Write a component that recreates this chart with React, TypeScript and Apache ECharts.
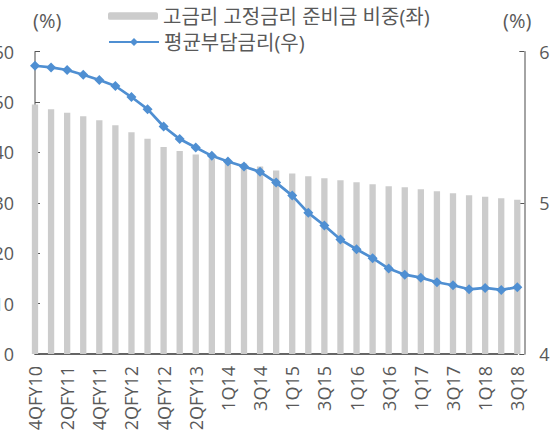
import React, { useEffect, useRef } from "react";
import * as echarts from "echarts";

const categories = [
  "4QFY10", "1QFY11", "2QFY11", "3QFY11", "4QFY11", "1QFY12", "2QFY12", "3QFY12",
  "4QFY12", "1QFY13", "2QFY13", "3QFY13", "1Q14", "2Q14", "3Q14", "4Q14",
  "1Q15", "2Q15", "3Q15", "4Q15", "1Q16", "2Q16", "3Q16", "4Q16",
  "1Q17", "2Q17", "3Q17", "4Q17", "1Q18", "2Q18", "3Q18",
];

const fixedRateReserveShare = [
  49.5, 48.6, 47.9, 47.2, 46.4, 45.4, 44.0, 42.7, 41.1, 40.3, 39.6, 38.8, 38.3, 37.8, 37.2, 36.4,
  35.85, 35.3, 34.9, 34.5, 34.1, 33.7, 33.3, 33.1, 32.7, 32.3, 31.9, 31.5, 31.2, 30.9, 30.6,
];

const avgBurdenRate = [
  5.907, 5.896, 5.879, 5.848, 5.813, 5.773, 5.7, 5.62, 5.505, 5.422, 5.366, 5.311, 5.274, 5.24, 5.205, 5.134,
  5.048, 4.934, 4.85, 4.757, 4.693, 4.634, 4.565, 4.525, 4.505, 4.475, 4.455, 4.428, 4.437, 4.424, 4.442,
];

const barName = "고금리 고정금리 준비금 비중(좌)";
const lineName = "평균부담금리(우)";
const unitLabel = "(%)";

const FONT = "'Open Sans', 'Noto Sans CJK KR', sans-serif";
const TEXT = "#595959";

export default function App() {
  const ref = useRef<HTMLDivElement>(null);
  useEffect(() => {
    if (!ref.current) return;
    const chart = echarts.init(ref.current, null, { renderer: "svg" });
    chart.setOption({
      animation: false,
      textStyle: { fontFamily: FONT },
      grid: { left: 35, right: 38.7, top: 51.7, bottom: 78, outerBoundsMode: "none", containLabel: false },
      legend: [
        {
          data: [barName],
          left: 108,
          top: 5,
          padding: 0,
          itemWidth: 50,
          itemHeight: 7.5,
          textStyle: { fontSize: 20, color: TEXT, fontFamily: FONT, lineHeight: 22 },
        },
        {
          data: [lineName],
          left: 108,
          top: 31,
          padding: 0,
          itemWidth: 50,
          itemHeight: 10,
          textStyle: { fontSize: 20, color: TEXT, fontFamily: FONT, lineHeight: 22 },
        },
      ],
      graphic: [
        {
          type: "text",
          left: 33,
          top: 10,
          style: { text: unitLabel, fontSize: 20, fill: TEXT, fontFamily: FONT },
        },
        {
          type: "text",
          left: 503,
          top: 10,
          style: { text: unitLabel, fontSize: 20, fill: TEXT, fontFamily: FONT },
        },
      ],
      xAxis: {
        type: "category",
        data: categories,
        boundaryGap: false,
        axisLine: { lineStyle: { color: "#333333", width: 1.5 } },
        axisTick: { inside: true, length: 5, interval: 1, lineStyle: { color: "#333333" } },
        axisLabel: {
          interval: 1,
          rotate: 90,
          margin: 12,
          fontSize: 18,
          color: TEXT,
          fontFamily: FONT,
        },
        splitLine: { show: false },
      },
      yAxis: [
        {
          type: "value",
          min: 0,
          max: 60,
          interval: 10,
          position: "left",
          axisLine: { show: true, lineStyle: { color: "#868686", width: 1.5 } },
          axisTick: { show: true, inside: true, length: 5, lineStyle: { color: "#555555" } },
          axisLabel: { margin: 21, fontSize: 18, color: TEXT, fontFamily: FONT },
          splitLine: { show: false },
        },
        {
          type: "value",
          min: 4,
          max: 6,
          interval: 1,
          position: "right",
          offset: 7,
          axisLine: { show: true, lineStyle: { color: "#868686", width: 1.5 } },
          axisTick: { show: true, inside: true, length: 5, lineStyle: { color: "#555555" } },
          axisLabel: { margin: 15, fontSize: 18, color: TEXT, fontFamily: FONT },
          splitLine: { show: false },
        },
      ],
      series: [
        {
          name: barName,
          type: "bar",
          data: fixedRateReserveShare,
          yAxisIndex: 0,
          barWidth: 6.3,
          clip: true,
          itemStyle: { color: "#cccccc" },
        },
        {
          name: lineName,
          type: "line",
          data: avgBurdenRate,
          yAxisIndex: 1,
          symbol: "diamond",
          symbolSize: 10,
          lineStyle: { color: "#4f8fd2", width: 2.7 },
          itemStyle: { color: "#4f8fd2" },
        },
      ],
    });
    return () => chart.dispose();
  }, []);
  return (
    <div
      ref={ref}
      style={{ position: "absolute", left: 0, top: 0, width: 556, height: 432 }}
    />
  );
}
